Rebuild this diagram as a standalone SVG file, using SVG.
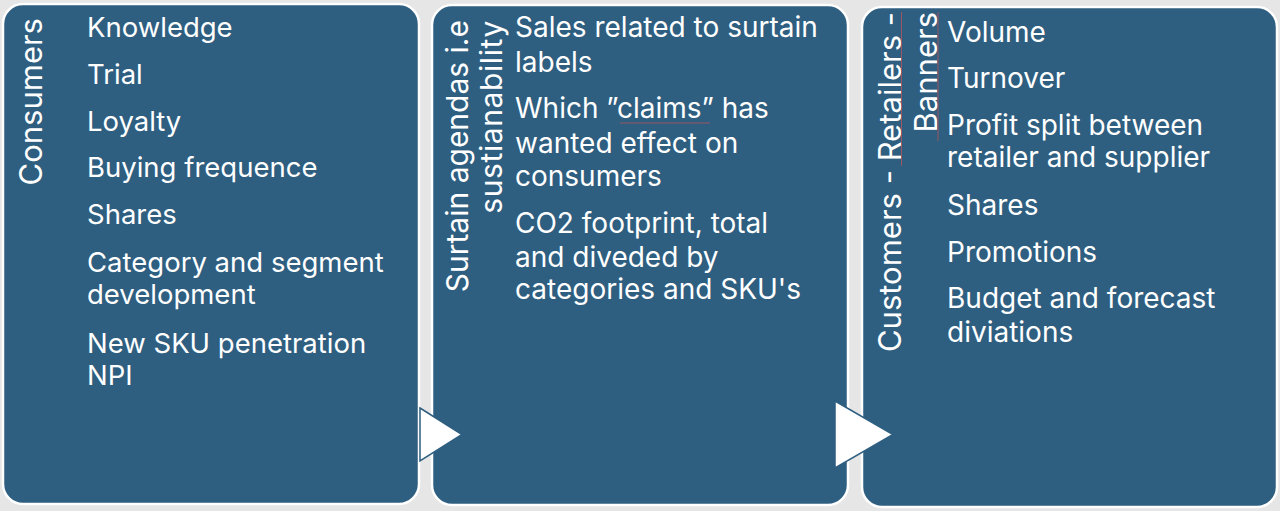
<svg xmlns="http://www.w3.org/2000/svg" width="1280" height="511" viewBox="0 0 1280 511">
  <style>
    .box { fill: #2e5e80; stroke: #ffffff; stroke-width: 2.5; }
    .item { font-family: Inter, "Open Sans", "Liberation Sans", sans-serif; font-size: 28px; fill: #ffffff; }
    .item1 { font-size: 27.5px; }
    .title { font-family: Inter, "Open Sans", "Liberation Sans", sans-serif; font-size: 31px; fill: #ffffff; text-anchor: end; }
    .title2 { font-size: 30px; }
    .arrow { fill: #ffffff; stroke: #2e5e80; stroke-width: 1.5; stroke-linejoin: miter; }
    .spell { stroke: #b5555a; stroke-width: 1; fill: none; opacity: 0.8; }
  </style>
  <rect x="0" y="0" width="1280" height="511" fill="#e6e6e6"/>

  <g id="node-consumers">
    <rect class="box" x="3" y="4" width="416" height="500" rx="20" ry="20"/>
    <text class="title" transform="translate(42,18) rotate(-90)">Consumers</text>
    <text class="item item1" x="87" y="37">Knowledge</text>
    <text class="item item1" x="87" y="84">Trial</text>
    <text class="item item1" x="87" y="131">Loyalty</text>
    <text class="item item1" x="87" y="177">Buying frequence</text>
    <text class="item item1" x="87" y="224">Shares</text>
    <text class="item item1" x="87" y="272">Category and segment</text>
    <text class="item item1" x="87" y="304">development</text>
    <text class="item item1" x="87" y="353">New SKU penetration</text>
    <text class="item item1" x="87" y="385">NPI</text>
  </g>

  <g id="node-sustainability">
    <rect class="box" x="432" y="5" width="416" height="500" rx="20" ry="20"/>
    <text class="title title2" transform="translate(468,20) rotate(-90)">Surtain agendas i.e</text>
    <text class="title title2" transform="translate(502,20) rotate(-90)" letter-spacing="0.6">sustianability</text>
    <text class="item" x="515" y="37">Sales related to surtain</text>
    <text class="item" x="515" y="72">labels</text>
    <text class="item" x="515" y="118">Which ”claims” has</text>
    <path class="spell" d="M620,123 L710,123"/>
    <text class="item" x="515" y="153">wanted effect on</text>
    <text class="item" x="515" y="186">consumers</text>
    <text class="item" x="515" y="233">CO2 footprint, total</text>
    <text class="item" x="515" y="267">and diveded by</text>
    <text class="item" x="515" y="299">categories and SKU's</text>
  </g>

  <g id="node-customers">
    <rect class="box" x="862" y="7" width="415" height="500" rx="20" ry="20"/>
    <text class="title" transform="translate(901,12) rotate(-90)">Customers - Retailers -</text>
    <text class="title" transform="translate(937,12) rotate(-90)">Banners</text>
    <path class="spell" d="M901.5,12 L901.5,166"/>
    <path class="spell" d="M938,12 L938,141"/>
    <text class="item" x="947" y="42">Volume</text>
    <text class="item" x="947" y="88">Turnover</text>
    <text class="item" x="947" y="135">Profit split between</text>
    <text class="item" x="947" y="167">retailer and supplier</text>
    <text class="item" x="947" y="215">Shares</text>
    <text class="item" x="947" y="262">Promotions</text>
    <text class="item" x="947" y="308">Budget and forecast</text>
    <text class="item" x="947" y="342">diviations</text>
  </g>

  <g id="connectors">
    <polygon class="arrow" points="420,408 462,434.5 420,461"/>
    <polygon class="arrow" points="835,401 893,434.5 835,468"/>
  </g>
</svg>
